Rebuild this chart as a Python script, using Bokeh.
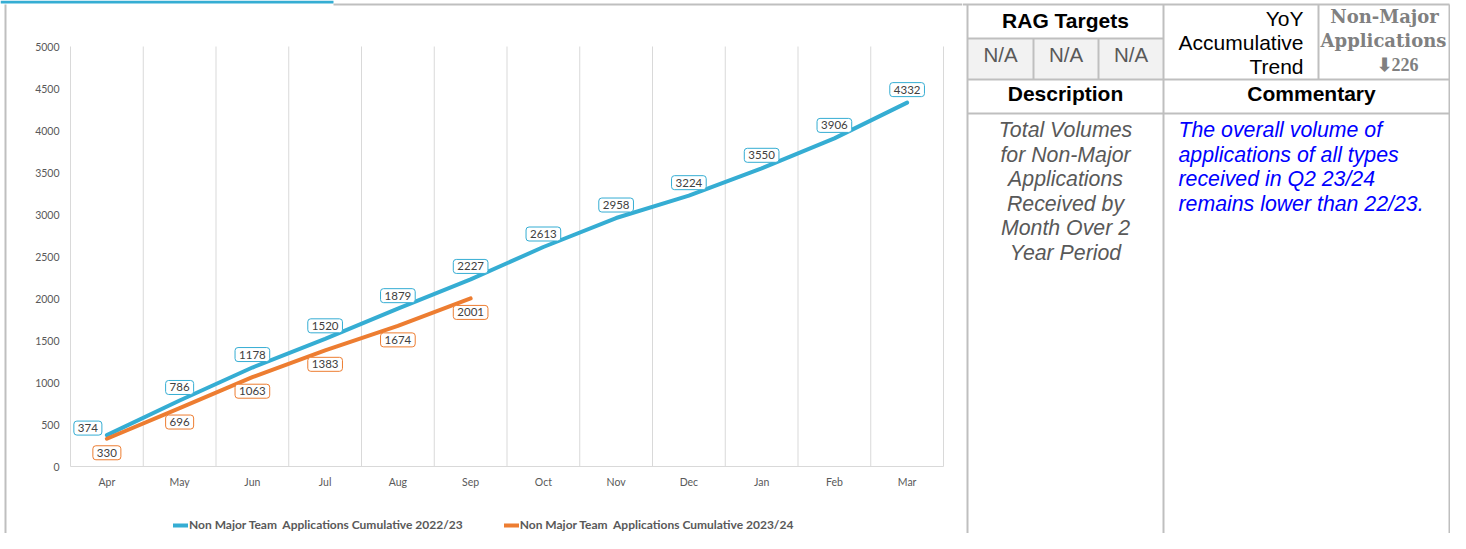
from bokeh.plotting import figure
from bokeh.models import (Range1d, FixedTicker, Legend, LegendItem, ColumnDataSource)
from bokeh.layouts import row
from bokeh.embed import file_html
from bokeh.resources import INLINE
from bokeh.core.properties import value

# ---------------- data ----------------
months = ["Apr", "May", "Jun", "Jul", "Aug", "Sep", "Oct", "Nov", "Dec", "Jan", "Feb", "Mar"]
cum_2022_23 = [374, 786, 1178, 1520, 1879, 2227, 2613, 2958, 3224, 3550, 3906, 4332]
cum_2023_24 = [330, 696, 1063, 1383, 1674, 2001]
series_names = ["Non Major Team  Applications Cumulative 2022/23",
                "Non Major Team  Applications Cumulative 2023/24"]
y_ticks = [0, 500, 1000, 1500, 2000, 2500, 3000, 3500, 4000, 4500, 5000]

rag_title = "RAG Targets"
rag_values = ["N/A", "N/A", "N/A"]
yoy_lines = ["YoY", "Accumulative", "Trend"]
kpi_lines = ["Non-Major", "Applications"]
kpi_change = "\u2b07226"
headers = ["Description", "Commentary"]
description_lines = ["Total Volumes", "for Non-Major", "Applications",
                     "Received by", "Month Over 2", "Year Period"]
commentary_lines = ["The overall volume of", "applications of all types",
                    "received in Q2 23/24", "remains lower than 22/23."]

# ---------------- styles / layout constants ----------------
BLUE = "#35ADD3"
ORANGE = "#ED7D31"
TXT = "#595959"
GRID = "#d9d9d9"
BORDER = "#bfbfbf"
CF = "Lato"
TF = "Liberation Sans"

H = 533            # canvas height
WA = 962           # chart canvas width
WB = 488           # table canvas width
PL, PR, PT, PB = 70, 943, 46, 466   # plot area box (pixels)
YMAX = 5000

n = len(months)
x_per = (PR - PL) / n
y_per = (PB - PT) / YMAX
x_rng = Range1d(-PL / x_per, (WA - PL) / x_per)
y_rng = Range1d(-(H - PB) / y_per, PB / y_per)

# ---------------- chart ----------------
pa = figure(x_range=x_rng, y_range=y_rng, width=WA, height=H,
            output_backend="svg", toolbar_location=None, min_border=0)
pa.extra_x_ranges = {"px": Range1d(0, WA)}
pa.extra_y_ranges = {"py": Range1d(H, 0)}
pa.outline_line_color = None
pa.background_fill_color = "white"
pa.border_fill_color = "white"
pa.grid.visible = False

centers = [i + 0.5 for i in range(n)]

ya = pa.yaxis[0]
ya.fixed_location = 0
ya.bounds = (0, YMAX)
ya.ticker = FixedTicker(ticks=y_ticks)
ya.axis_line_color = None
ya.major_tick_line_color = None
ya.minor_tick_line_color = None
ya.major_label_standoff = 5
ya.major_label_text_font_size = "10.5px"
ya.major_label_text_color = TXT
ya.major_label_text_font = CF

xa = pa.xaxis[0]
xa.fixed_location = 0
xa.bounds = (0, n)
xa.ticker = FixedTicker(ticks=centers)
xa.major_label_overrides = {c: m for c, m in zip(centers, months)}
xa.axis_line_color = GRID
xa.axis_line_width = 1
xa.major_tick_line_color = None
xa.minor_tick_line_color = None
xa.major_label_standoff = 3
xa.major_label_text_font_size = "10.5px"
xa.major_label_text_color = TXT
xa.major_label_text_font = CF

# category boundary grid lines
pa.segment(x0=list(range(n + 1)), y0=[0] * (n + 1), x1=list(range(n + 1)),
           y1=[YMAX] * (n + 1), line_color=GRID, line_width=1)

# frame decorations (pixel coordinates)
pa.quad(left=[0], right=[333], top=[0], bottom=[3], fill_color=BLUE, line_color=None,
        x_range_name="px", y_range_name="py")
pa.segment(x0=[333, 5], y0=[4, 4], x1=[WA, 5], y1=[4, H], line_color=BORDER, line_width=2,
           x_range_name="px", y_range_name="py")

r1 = pa.line(centers, cum_2022_23, line_color=BLUE, line_width=4, line_cap="round")
r2 = pa.line(centers[:len(cum_2023_24)], cum_2023_24, line_color=ORANGE, line_width=4,
             line_cap="round")

src1 = ColumnDataSource(dict(
    x=centers, y=cum_2022_23, t=[str(v) for v in cum_2022_23],
    xo=[-19] + [0] * (n - 1), yo=[-7] + [-13] * (n - 1)))
src2 = ColumnDataSource(dict(
    x=centers[:len(cum_2023_24)], y=cum_2023_24, t=[str(v) for v in cum_2023_24]))

common = dict(text_font=value(CF), text_font_size="11.5px", text_color="#404040",
              text_align="center", text_baseline="middle",
              background_fill_color="white", border_line_width=1,
              padding=(4, 3), border_radius=3)
pa.text(x="x", y="y", text="t", source=src1, x_offset="xo", y_offset="yo",
        border_line_color=BLUE, **common)
pa.text(x="x", y="y", text="t", source=src2, y_offset=14,
        border_line_color=ORANGE, **common)

legend = Legend(items=[LegendItem(label=series_names[0], renderers=[r1]),
                       LegendItem(label=series_names[1], renderers=[r2])],
                orientation="horizontal", location=(173, 1),
                label_text_font=CF, label_text_font_size="12px",
                label_text_font_style="bold", label_text_color=TXT,
                glyph_width=15, glyph_height=14, label_height=14,
                label_standoff=1, spacing=41, padding=0, margin=0,
                border_line_alpha=0, background_fill_alpha=0)
pa.add_layout(legend)

# ---------------- side table ----------------
X0 = WA
pb = figure(x_range=Range1d(X0, X0 + WB), y_range=Range1d(H, 0),
            width=WB, height=H, output_backend="svg", toolbar_location=None,
            min_border=0, x_axis_type=None, y_axis_type=None)
pb.outline_line_color = None
pb.grid.visible = False
pb.border_fill_color = "white"
pb.background_fill_color = "white"

RX = X0 + WB - 1
pb.quad(left=[967], right=[1163], top=[38], bottom=[79], fill_color="#f2f2f2",
        line_color=None)
seg_x0 = [X0, 967, 967, 967, 967, 1033, 1098, 1163, 1318, RX]
seg_x1 = [RX, 1163, RX, RX, 967, 1033, 1098, 1163, 1318, RX]
seg_y0 = [4, 38, 79, 113, 4, 38, 38, 4, 4, 4]
seg_y1 = [4, 38, 79, 113, H, 79, 79, H, 79, H]
pb.segment(x0=seg_x0, y0=seg_y0, x1=seg_x1, y1=seg_y1, line_color=BORDER, line_width=2)

FS = "21px"
DY = -7.5
pb.text(x=[1065, 1065, 1311], y=[27 + DY, 100 + DY, 100 + DY], text=[rag_title] + headers,
        text_font=value(TF), text_font_size=FS, text_font_style="bold",
        text_color="black", text_align="center", text_baseline="alphabetic")
pb.text(x=[1000, 1065.5, 1130.5], y=[61 + DY] * 3, text=rag_values,
        text_font=value(TF), text_font_size="20.5px", text_color=TXT,
        text_align="center", text_baseline="alphabetic")
pb.text(x=[1303, 1303, 1303], y=[25 + DY, 49 + DY, 73 + DY], text=yoy_lines,
        text_font=value(TF), text_font_size=FS, text_color="black",
        text_align="right", text_baseline="alphabetic")
pb.text(x=[1384, 1383], y=[23 + DY, 47 + DY], text=kpi_lines,
        text_font=value("DejaVu Serif"), text_font_size="18px", text_font_style="bold",
        text_color="#808080", text_align="center", text_baseline="alphabetic")
pb.text(x=[1397], y=[72 + DY], text=[kpi_change],
        text_font=value("Liberation Serif"), text_font_size="18px", text_font_style="bold",
        text_color="#808080", text_align="center", text_baseline="alphabetic")
pb.text(x=[1065] * len(description_lines),
        y=[137 + DY + 24.6 * i for i in range(len(description_lines))],
        text=description_lines, text_font=value(TF), text_font_size="21.3px",
        text_font_style="italic", text_color=TXT, text_align="center",
        text_baseline="alphabetic")
pb.text(x=[1178] * len(commentary_lines),
        y=[137 + DY + 24.6 * i for i in range(len(commentary_lines))],
        text=commentary_lines, text_font=value(TF), text_font_size="21.3px",
        text_font_style="italic", text_color="#0000FF", text_align="left",
        text_baseline="alphabetic")

layout = row(pa, pb)
open("out.html", "w").write(file_html(layout, INLINE))
